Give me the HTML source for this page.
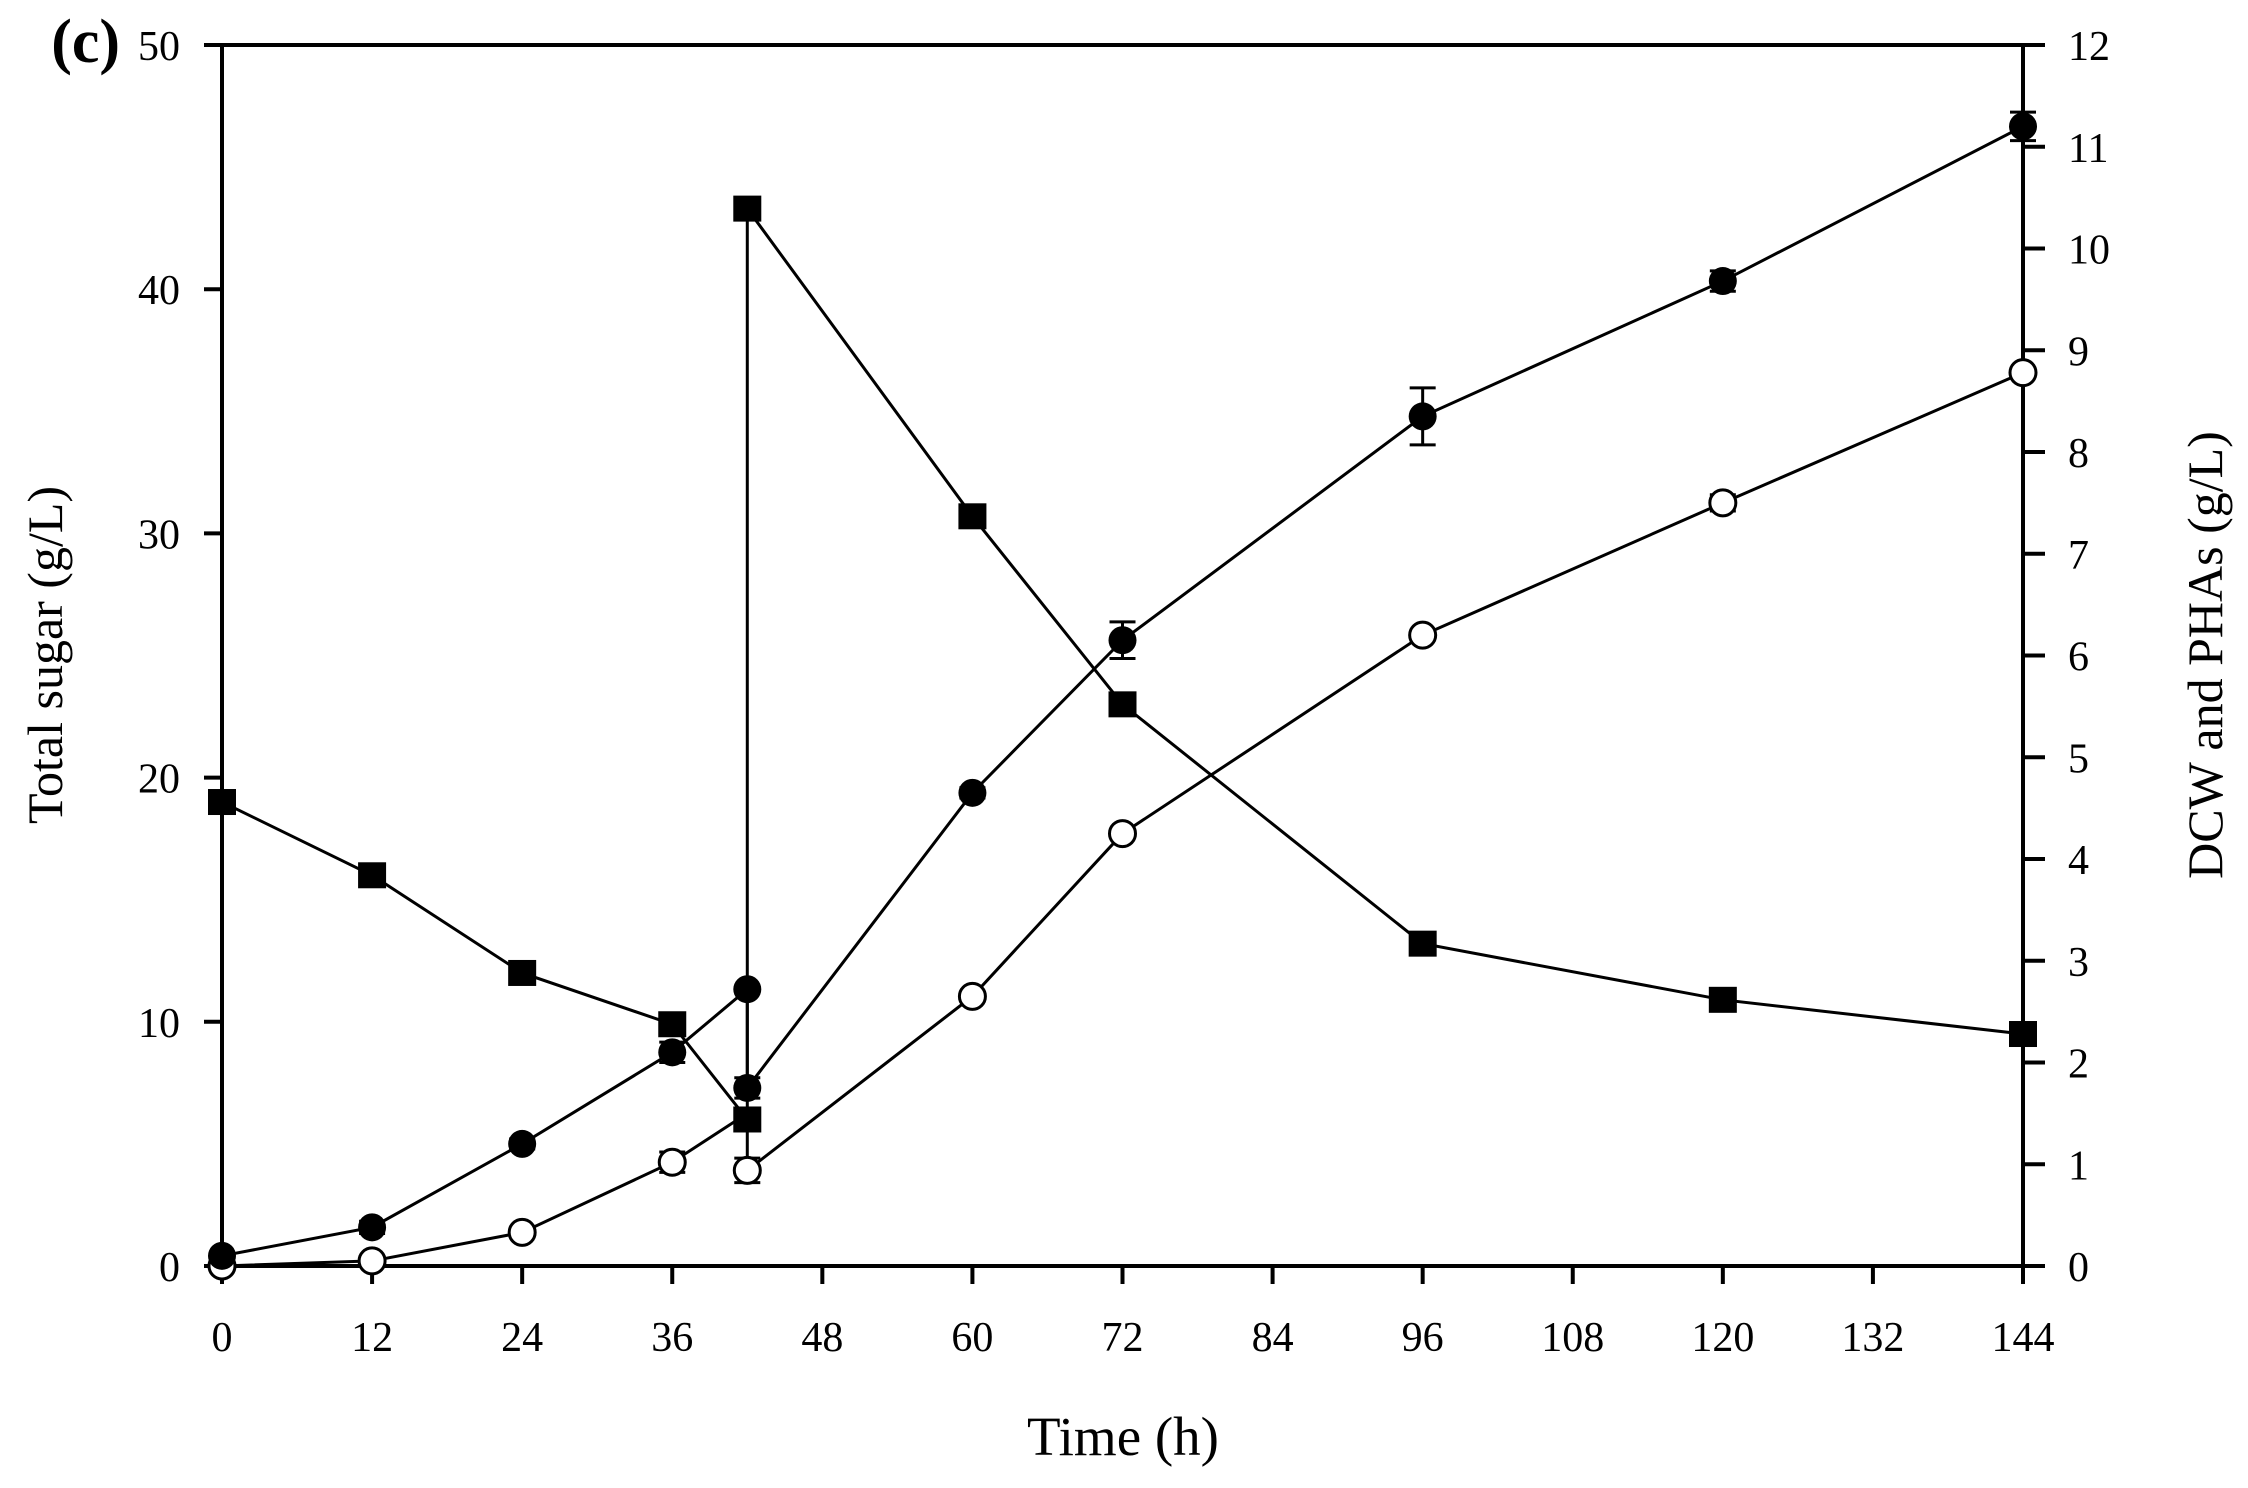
<!DOCTYPE html>
<html><head><meta charset="utf-8"><style>body{margin:0;background:#fff}svg{display:block}</style></head>
<body>
<svg id="s" width="2248" height="1488" xmlns="http://www.w3.org/2000/svg" font-family="Liberation Serif, serif"></svg>
<script>
const s=document.getElementById('s');
const X0=222,X1=2023,YT=45,YB=1266;
const X=t=>X0+t*(X1-X0)/144, YL=v=>YB-v*(YB-YT)/50, YR=v=>YB-v*(YB-YT)/12;
let h='';
const ln=(a,b,c,d,w=4)=>h+=`<line x1="${a}" y1="${b}" x2="${c}" y2="${d}" stroke="#000" stroke-width="${w}"/>`;
const tx=(x,y,t,anc,size=42,extra='')=>h+=`<text x="${x}" y="${y}" font-size="${size}" text-anchor="${anc}" ${extra}>${t}</text>`;
ln(204,YT,X1,YT);ln(X0,YT-2,X0,YB+2);ln(X1,YT-2,X1,YB+18);ln(204,YB,2045,YB);
for(let v=0;v<=50;v+=10){ln(204,YL(v),X0,YL(v));tx(180,YL(v)+15,v,'end');}
for(let v=0;v<=12;v++){ln(X1,YR(v),2045,YR(v));tx(2068,YR(v)+15,v,'start');}
for(let t=0;t<=144;t+=12){ln(X(t),YB,X(t),YB+18);tx(X(t),1351,t,'middle');}
tx(120,62,'(c)','end',62,'font-weight="bold"');
tx(1123,1455,'Time (h)','middle',55);
h+=`<text transform="translate(62,655) rotate(-90)" font-size="50" text-anchor="middle">Total sugar (g/L)</text>`;
h+=`<text transform="translate(2222,655) rotate(-90)" font-size="50" text-anchor="middle">DCW and PHAs (g/L)</text>`;
const poly=(pts)=>h+=`<polyline points="${pts.map(p=>p.join(',')).join(' ')}" fill="none" stroke="#000" stroke-width="3"/>`;
const eb=(x,y,e)=>{if(e<=0)return;ln(x,y-e,x,y+e,3);ln(x-13,y-e,x+13,y-e,3);ln(x-13,y+e,x+13,y+e,3);};
const sq=[[0,19,3],[12,16,3],[24,12,2],[36,9.9,3],[42,6,8],[42,43.3,4],[60,30.7,4],[72,23,3],[96,13.2,4],[120,10.9,3],[144,9.5,3]];
ln(X(0),YB,X(0),YL(19),3);
poly(sq.map(p=>[X(p[0]),YL(p[1])]));
const fc=[[0,0.1,0],[12,0.38,0.06],[24,1.2,0.05],[36,2.1,0.1],[42,2.72,0],[42,1.75,0.1],[60,4.65,0.05],[72,6.15,0.18],[96,8.35,0.28],[120,9.68,0.1],[144,11.2,0.14]];
poly(fc.map(p=>[X(p[0]),YR(p[1])]));
const oc=[[0,0,0],[12,0.05,0.03],[24,0.33,0.03],[36,1.02,0.1],[42,1.5,0],[42,0.94,0.12],[60,2.65,0.05],[72,4.25,0.05],[96,6.2,0.05],[120,7.5,0.08],[144,8.78,0.04]];
poly(oc.map(p=>[X(p[0]),YR(p[1])]));
oc.forEach(p=>eb(X(p[0]),YR(p[1]),p[2]*101.75));
oc.forEach(p=>{if(!(p[0]==42&&p[1]==1.5))h+=`<circle cx="${X(p[0])}" cy="${YR(p[1])}" r="13" fill="#fff" stroke="#000" stroke-width="3"/>`;});
sq.forEach(p=>{eb(X(p[0]),YL(p[1]),p[2]);h+=`<rect x="${X(p[0])-14}" y="${YL(p[1])-13}" width="28" height="26" fill="#000"/>`;});
fc.forEach(p=>{eb(X(p[0]),YR(p[1]),p[2]*101.75);h+=`<circle cx="${X(p[0])}" cy="${YR(p[1])}" r="14" fill="#000"/>`;});
s.innerHTML=h;
</script>
</body></html>
